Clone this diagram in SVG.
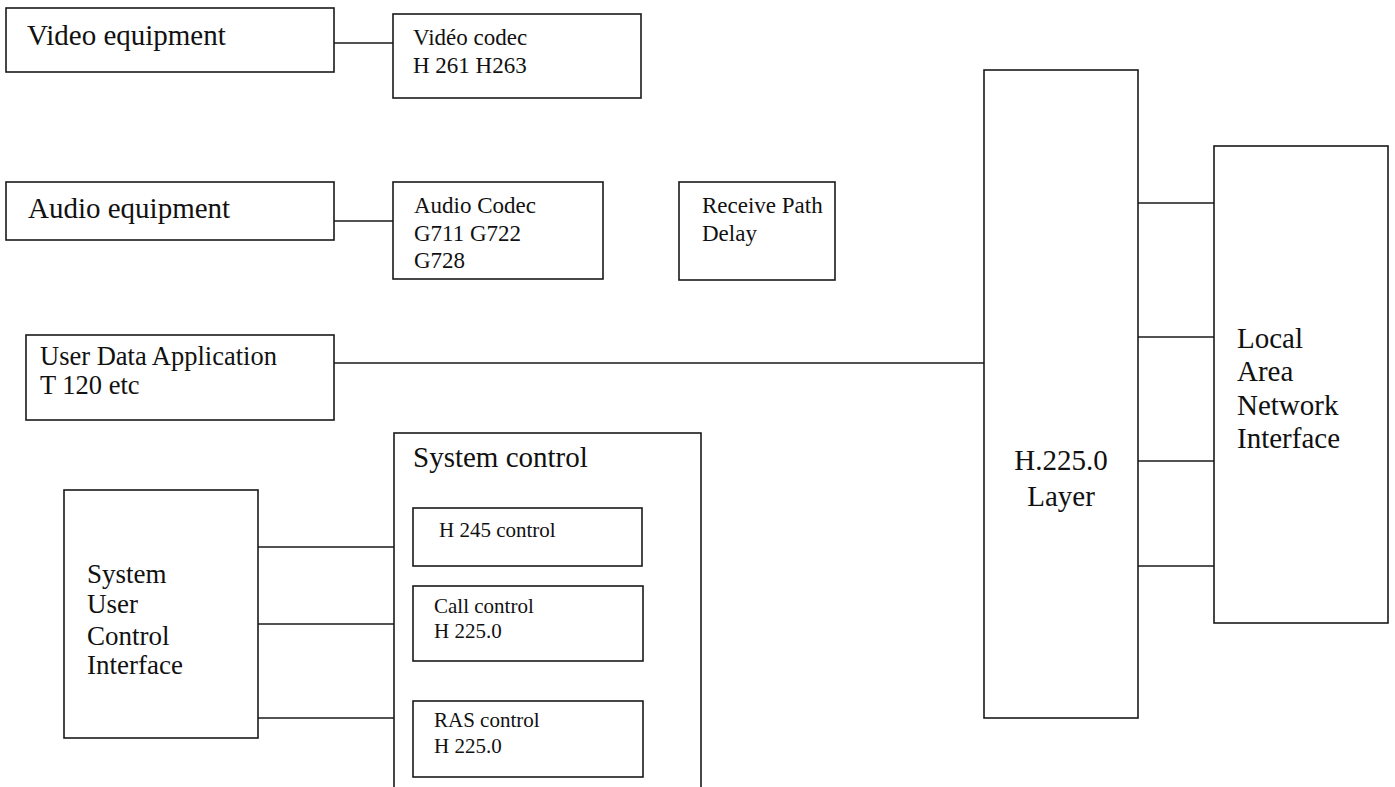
<svg xmlns="http://www.w3.org/2000/svg" width="1395" height="787" viewBox="0 0 1395 787">
<style>
rect{fill:#fff;stroke:#1a1a1a;stroke-width:1.6}
line{stroke:#1a1a1a;stroke-width:1.6}
text{font-family:"Liberation Serif","Times New Roman",serif;fill:#111}
.l{font-size:29px}
.m{font-size:27px}
.u{font-size:26.5px}
.s{font-size:23px}
.xs{font-size:21px}
</style>
<rect x="0" y="0" width="1395" height="787" style="stroke:none"/>
<g id="connectors">
<line x1="334" y1="43" x2="393" y2="43"/>
<line x1="334" y1="221" x2="393" y2="221"/>
<line x1="334" y1="363" x2="984" y2="363"/>
<line x1="258" y1="547" x2="413" y2="547"/>
<line x1="258" y1="624" x2="413" y2="624"/>
<line x1="258" y1="718" x2="413" y2="718"/>
<line x1="1138" y1="203" x2="1214" y2="203"/>
<line x1="1138" y1="337" x2="1214" y2="337"/>
<line x1="1138" y1="461" x2="1214" y2="461"/>
<line x1="1138" y1="566" x2="1214" y2="566"/>
</g>
<g id="video-equipment"><rect x="6" y="8" width="328" height="64"/><text class="l" x="27" y="45">Video equipment</text></g>
<g id="video-codec"><rect x="393" y="14" width="248" height="84"/><text class="s" x="413" y="45">Vidéo codec</text><text class="s" x="413" y="73">H 261 H263</text></g>
<g id="audio-equipment"><rect x="6" y="182" width="328" height="58"/><text class="l" x="28" y="218">Audio equipment</text></g>
<g id="audio-codec"><rect x="393" y="182" width="210" height="97"/><text class="s" x="414" y="213">Audio Codec</text><text class="s" x="414" y="241">G711 G722</text><text class="s" x="414" y="268">G728</text></g>
<g id="receive-path-delay"><rect x="679" y="182" width="156" height="98"/><text class="s" x="702" y="213">Receive Path</text><text class="s" x="702" y="241">Delay</text></g>
<g id="user-data-application"><rect x="26" y="335" width="308" height="85"/><text class="u" x="40" y="365">User Data Application</text><text class="u" x="40" y="394">T 120 etc</text></g>
<g id="system-control"><rect x="394" y="433" width="307" height="360"/><text class="l" x="413" y="467">System control</text></g>
<g id="h245-control"><rect x="413" y="508" width="229" height="58"/><text class="xs" x="439" y="537">H 245 control</text></g>
<g id="call-control"><rect x="413" y="586" width="230" height="75"/><text class="xs" x="434" y="613">Call control</text><text class="xs" x="434" y="638">H 225.0</text></g>
<g id="ras-control"><rect x="413" y="701" width="230" height="76"/><text class="xs" x="434" y="727">RAS control</text><text class="xs" x="434" y="753">H 225.0</text></g>
<g id="system-user-control-interface"><rect x="64" y="490" width="194" height="248"/><text class="m" x="87" y="583">System</text><text class="m" x="87" y="613">User</text><text class="m" x="87" y="645">Control</text><text class="m" x="87" y="674">Interface</text></g>
<g id="h225-layer"><rect x="984" y="70" width="154" height="648"/><text class="l" x="1061" y="470" text-anchor="middle">H.225.0</text><text class="l" x="1061" y="506" text-anchor="middle">Layer</text></g>
<g id="lan-interface"><rect x="1214" y="146" width="174" height="477"/><text class="l" x="1237" y="348">Local</text><text class="l" x="1237" y="381">Area</text><text class="l" x="1237" y="415">Network</text><text class="l" x="1237" y="448">Interface</text></g>
</svg>
